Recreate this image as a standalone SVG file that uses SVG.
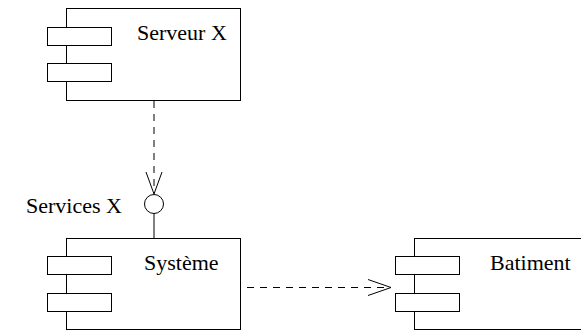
<svg xmlns="http://www.w3.org/2000/svg" width="581" height="330" viewBox="0 0 581 330">
<style>
.box{fill:#fff;stroke:#000;stroke-width:1}
.port{fill:#fff;stroke:#000;stroke-width:1}
.lbl{font-family:"Liberation Serif","Times New Roman",serif;font-size:22px;fill:#000}
.dash{fill:none;stroke:#000;stroke-width:1;stroke-dasharray:7,6}
.solid{fill:none;stroke:#000;stroke-width:1}
</style>
<rect width="581" height="330" fill="#fff"/>
<g id="serveur">
<rect class="box" x="66.5" y="8.5" width="174" height="92"/>
<rect class="port" x="47.5" y="27.5" width="64" height="18"/>
<rect class="port" x="47.5" y="63.5" width="64" height="18"/>
<text class="lbl" x="137" y="40">Serveur X</text>
</g>
<g id="systeme">
<rect class="box" x="66.5" y="238.5" width="174" height="91"/>
<rect class="port" x="47.5" y="256.5" width="64" height="18"/>
<rect class="port" x="47.5" y="293.5" width="64" height="18"/>
<text class="lbl" x="144" y="270">Système</text>
</g>
<g id="batiment">
<rect class="box" x="414.5" y="238.5" width="174" height="91"/>
<rect class="port" x="395.5" y="256.5" width="64" height="18"/>
<rect class="port" x="395.5" y="293.5" width="64" height="18"/>
<text class="lbl" x="490" y="270">Batiment</text>
</g>
<g id="services">
<circle class="solid" cx="154" cy="204" r="9.5" fill="#fff"/>
<line class="solid" x1="154" y1="213.5" x2="154" y2="238"/>
<text class="lbl" x="26" y="213">Services X</text>
</g>
<g id="connectors">
<line class="dash" x1="154" y1="101" x2="154" y2="193"/>
<polyline class="solid" points="146,172 154,194 162,172"/>
<line class="dash" x1="247" y1="287.5" x2="390" y2="287.5"/>
<polyline class="solid" points="368,279.5 391,287.5 368,295.5"/>
</g>
</svg>
